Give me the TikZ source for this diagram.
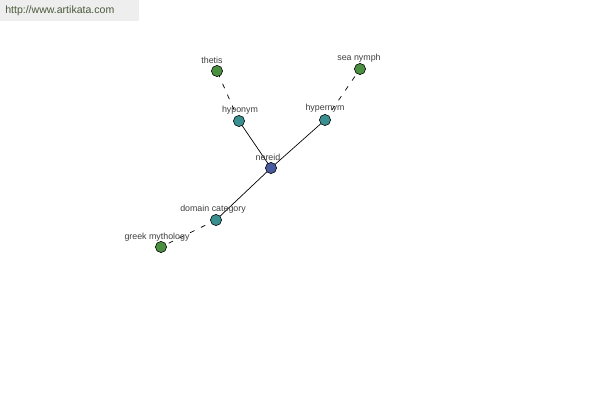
\documentclass[tikz,border=0pt]{standalone}
\usepackage{fontspec}
\setmainfont{Liberation Sans}
\begin{document}
\begin{tikzpicture}[x=0.025cm,y=-0.025cm,
  dot/.style={circle,draw=black,line width=0.4pt,minimum size=0.28cm,inner sep=0pt},
  hub/.style={dot,fill=nblue},
  rel/.style={dot,fill=nteal},
  leaf/.style={dot,fill=ngreen},
  lbl/.style={font=\fontsize{6.3}{7}\selectfont,text=black!75,inner sep=0pt},
  link/.style={line width=0.5pt,black},
  dlink/.style={line width=0.5pt,black,dash pattern=on 3.5pt off 5pt}]
\definecolor{nblue}{HTML}{4A5AA0}
\definecolor{nteal}{HTML}{3A9090}
\definecolor{ngreen}{HTML}{4A9040}
\definecolor{hdrbg}{HTML}{EEEEEE}
\definecolor{hdrtx}{HTML}{4A5A3A}
\useasboundingbox (0,0) rectangle (600,400);
\fill[white] (0,0) rectangle (600,400);
\fill[hdrbg] (0,0) rectangle (139,21);
\node[font=\fontsize{7.5}{9}\selectfont,text=hdrtx,anchor=west,inner sep=0pt] (hdr) at (5,11) {http://www.artikata.com};
% nodes
\coordinate (cn) at (271,168);
\coordinate (chypo) at (239,121);
\coordinate (cthetis) at (217,71);
\coordinate (chyper) at (325,120);
\coordinate (csea) at (360,69);
\coordinate (cdom) at (216,220);
\coordinate (cgreek) at (161,247);
\draw[link] (cn) -- (chypo);
\draw[link] (cn) -- (chyper);
\draw[link] (cn) -- (cdom);
\draw[dlink] (chypo) -- (cthetis);
\draw[dlink] (chyper) -- (csea);
\draw[dlink] (cdom) -- (cgreek);
\node[hub] (n) at (cn) {};
\node[rel] (hypo) at (chypo) {};
\node[leaf] (thetis) at (cthetis) {};
\node[rel] (hyper) at (chyper) {};
\node[leaf] (sea) at (csea) {};
\node[rel] (dom) at (cdom) {};
\node[leaf] (greek) at (cgreek) {};
\node[lbl] (ln) at (268,157) {nereid};
\node[lbl] (lhypo) at (240,110) {hyponym};
\node[lbl] (lthetis) at (212,60) {thetis};
\node[lbl] (lhyper) at (325,108) {hypernym};
\node[lbl] (lsea) at (359,58) {sea nymph};
\node[lbl] (ldom) at (213,209) {domain category};
\node[lbl] (lgreek) at (157,237) {greek mythology};
\end{tikzpicture}
\end{document}
